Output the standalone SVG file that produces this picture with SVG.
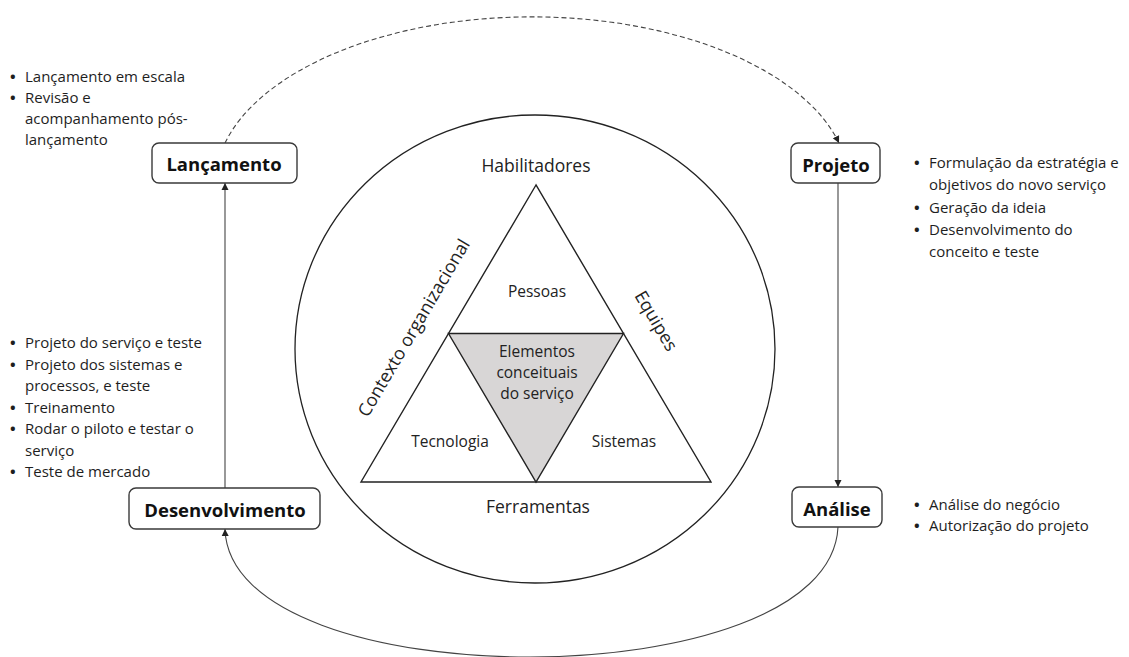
<svg xmlns="http://www.w3.org/2000/svg" width="1129" height="657" viewBox="0 0 1129 657">
<defs>
<style>
.box{fill:#fff;stroke:#3a3a3a;stroke-width:1.4}
.lbl{font-family:'Open Sans',sans-serif;font-weight:700;font-size:18.5px;fill:#111;text-anchor:middle}
.li{font-family:'Open Sans',sans-serif;font-size:15px;fill:#1e1e1e}
.bu{font-weight:700}
.in{font-family:'Open Sans',sans-serif;font-size:15.5px;fill:#222;text-anchor:middle}
.big{font-family:'Open Sans',sans-serif;font-size:17.5px;fill:#222;text-anchor:middle}
.rot{font-family:'Open Sans',sans-serif;font-size:18px;fill:#222;text-anchor:middle}
.con{fill:none;stroke:#444;stroke-width:1.1}
.dash{stroke-dasharray:5 3}
.tri{fill:#fff;stroke:#222;stroke-width:1.4;stroke-linejoin:miter}
</style>
<marker id="ah" viewBox="0 0 10 10" refX="10" refY="5" markerWidth="7" markerHeight="8" markerUnits="userSpaceOnUse" orient="auto">
<path d="M0,0 L10,5 L0,10 z" fill="#222"/>
</marker>
</defs>
<rect width="1129" height="657" fill="#fff"/>

<g id="centre">
<ellipse cx="535" cy="349" rx="240" ry="234" fill="none" stroke="#222" stroke-width="1.3"/>
<polygon class="tri" points="536,185 361,482 711,482"/>
<polygon points="448.5,333.5 623.5,333.5 536,482" fill="#d8d6d6" stroke="#222" stroke-width="1.4"/>
<text class="big" x="536" y="172">Habilitadores</text>
<text class="big" x="538" y="513">Ferramentas</text>
<text class="in" x="537" y="297">Pessoas</text>
<text class="in" x="537" y="357">Elementos</text>
<text class="in" x="537" y="378">conceituais</text>
<text class="in" x="537" y="398.5">do serviço</text>
<text class="in" x="450" y="447">Tecnologia</text>
<text class="in" x="624" y="447">Sistemas</text>
<text class="rot" transform="translate(414,328) rotate(-59.5)" x="0" y="6">Contexto organizacional</text>
<text class="rot" transform="translate(656,321) rotate(59.5)" x="0" y="6">Equipes</text>
</g>

<g id="connectors">
<path class="con dash" d="M225,143 A317,168 0 0 1 839,143" marker-end="url(#ah)"/>
<path class="con" d="M838,183 L838,487" marker-end="url(#ah)"/>
<path class="con" d="M838,527 C830,700 230,700 225,529" marker-end="url(#ah)"/>
<path class="con" d="M225,488 L225,183" marker-end="url(#ah)"/>
</g>

<g id="lancamento">
<rect class="box" x="152" y="143" width="145" height="40" rx="7"/>
<text class="lbl" x="224" y="171">Lançamento</text>
</g>

<g id="projeto">
<rect class="box" x="791" y="143" width="89" height="40" rx="7"/>
<text class="lbl" x="836" y="171.5">Projeto</text>
</g>

<g id="analise">
<rect class="box" x="792" y="487" width="90" height="40" rx="7"/>
<text class="lbl" x="837" y="516">Análise</text>
</g>

<g id="desenvolvimento">
<rect class="box" x="129" y="488" width="191" height="41" rx="7"/>
<text class="lbl" x="225" y="517">Desenvolvimento</text>
</g>

<g id="notes-lancamento">
<text class="li" y="82"><tspan class="bu" x="10">•</tspan><tspan x="25">Lançamento em escala</tspan></text>
<text class="li" y="103"><tspan class="bu" x="10">•</tspan><tspan x="25">Revisão e</tspan></text>
<text class="li" x="25" y="124">acompanhamento pós-</text>
<text class="li" x="25" y="145">lançamento</text>
</g>

<g id="notes-projeto">
<text class="li" y="168"><tspan class="bu" x="914">•</tspan><tspan x="929">Formulação da estratégia e</tspan></text>
<text class="li" x="929" y="190">objetivos do novo serviço</text>
<text class="li" y="212.5"><tspan class="bu" x="914">•</tspan><tspan x="929">Geração da ideia</tspan></text>
<text class="li" y="234.5"><tspan class="bu" x="914">•</tspan><tspan x="929">Desenvolvimento do</tspan></text>
<text class="li" x="929" y="256.5">conceito e teste</text>
</g>

<g id="notes-desenvolvimento">
<text class="li" y="348"><tspan class="bu" x="10">•</tspan><tspan x="25">Projeto do serviço e teste</tspan></text>
<text class="li" y="369.5"><tspan class="bu" x="10">•</tspan><tspan x="25">Projeto dos sistemas e</tspan></text>
<text class="li" x="25" y="391">processos, e teste</text>
<text class="li" y="412.5"><tspan class="bu" x="10">•</tspan><tspan x="25">Treinamento</tspan></text>
<text class="li" y="434"><tspan class="bu" x="10">•</tspan><tspan x="25">Rodar o piloto e testar o</tspan></text>
<text class="li" x="25" y="455.5">serviço</text>
<text class="li" y="477"><tspan class="bu" x="10">•</tspan><tspan x="25">Teste de mercado</tspan></text>
</g>

<g id="notes-analise">
<text class="li" y="510"><tspan class="bu" x="914">•</tspan><tspan x="929">Análise do negócio</tspan></text>
<text class="li" y="531"><tspan class="bu" x="914">•</tspan><tspan x="929">Autorização do projeto</tspan></text>
</g>
</svg>
